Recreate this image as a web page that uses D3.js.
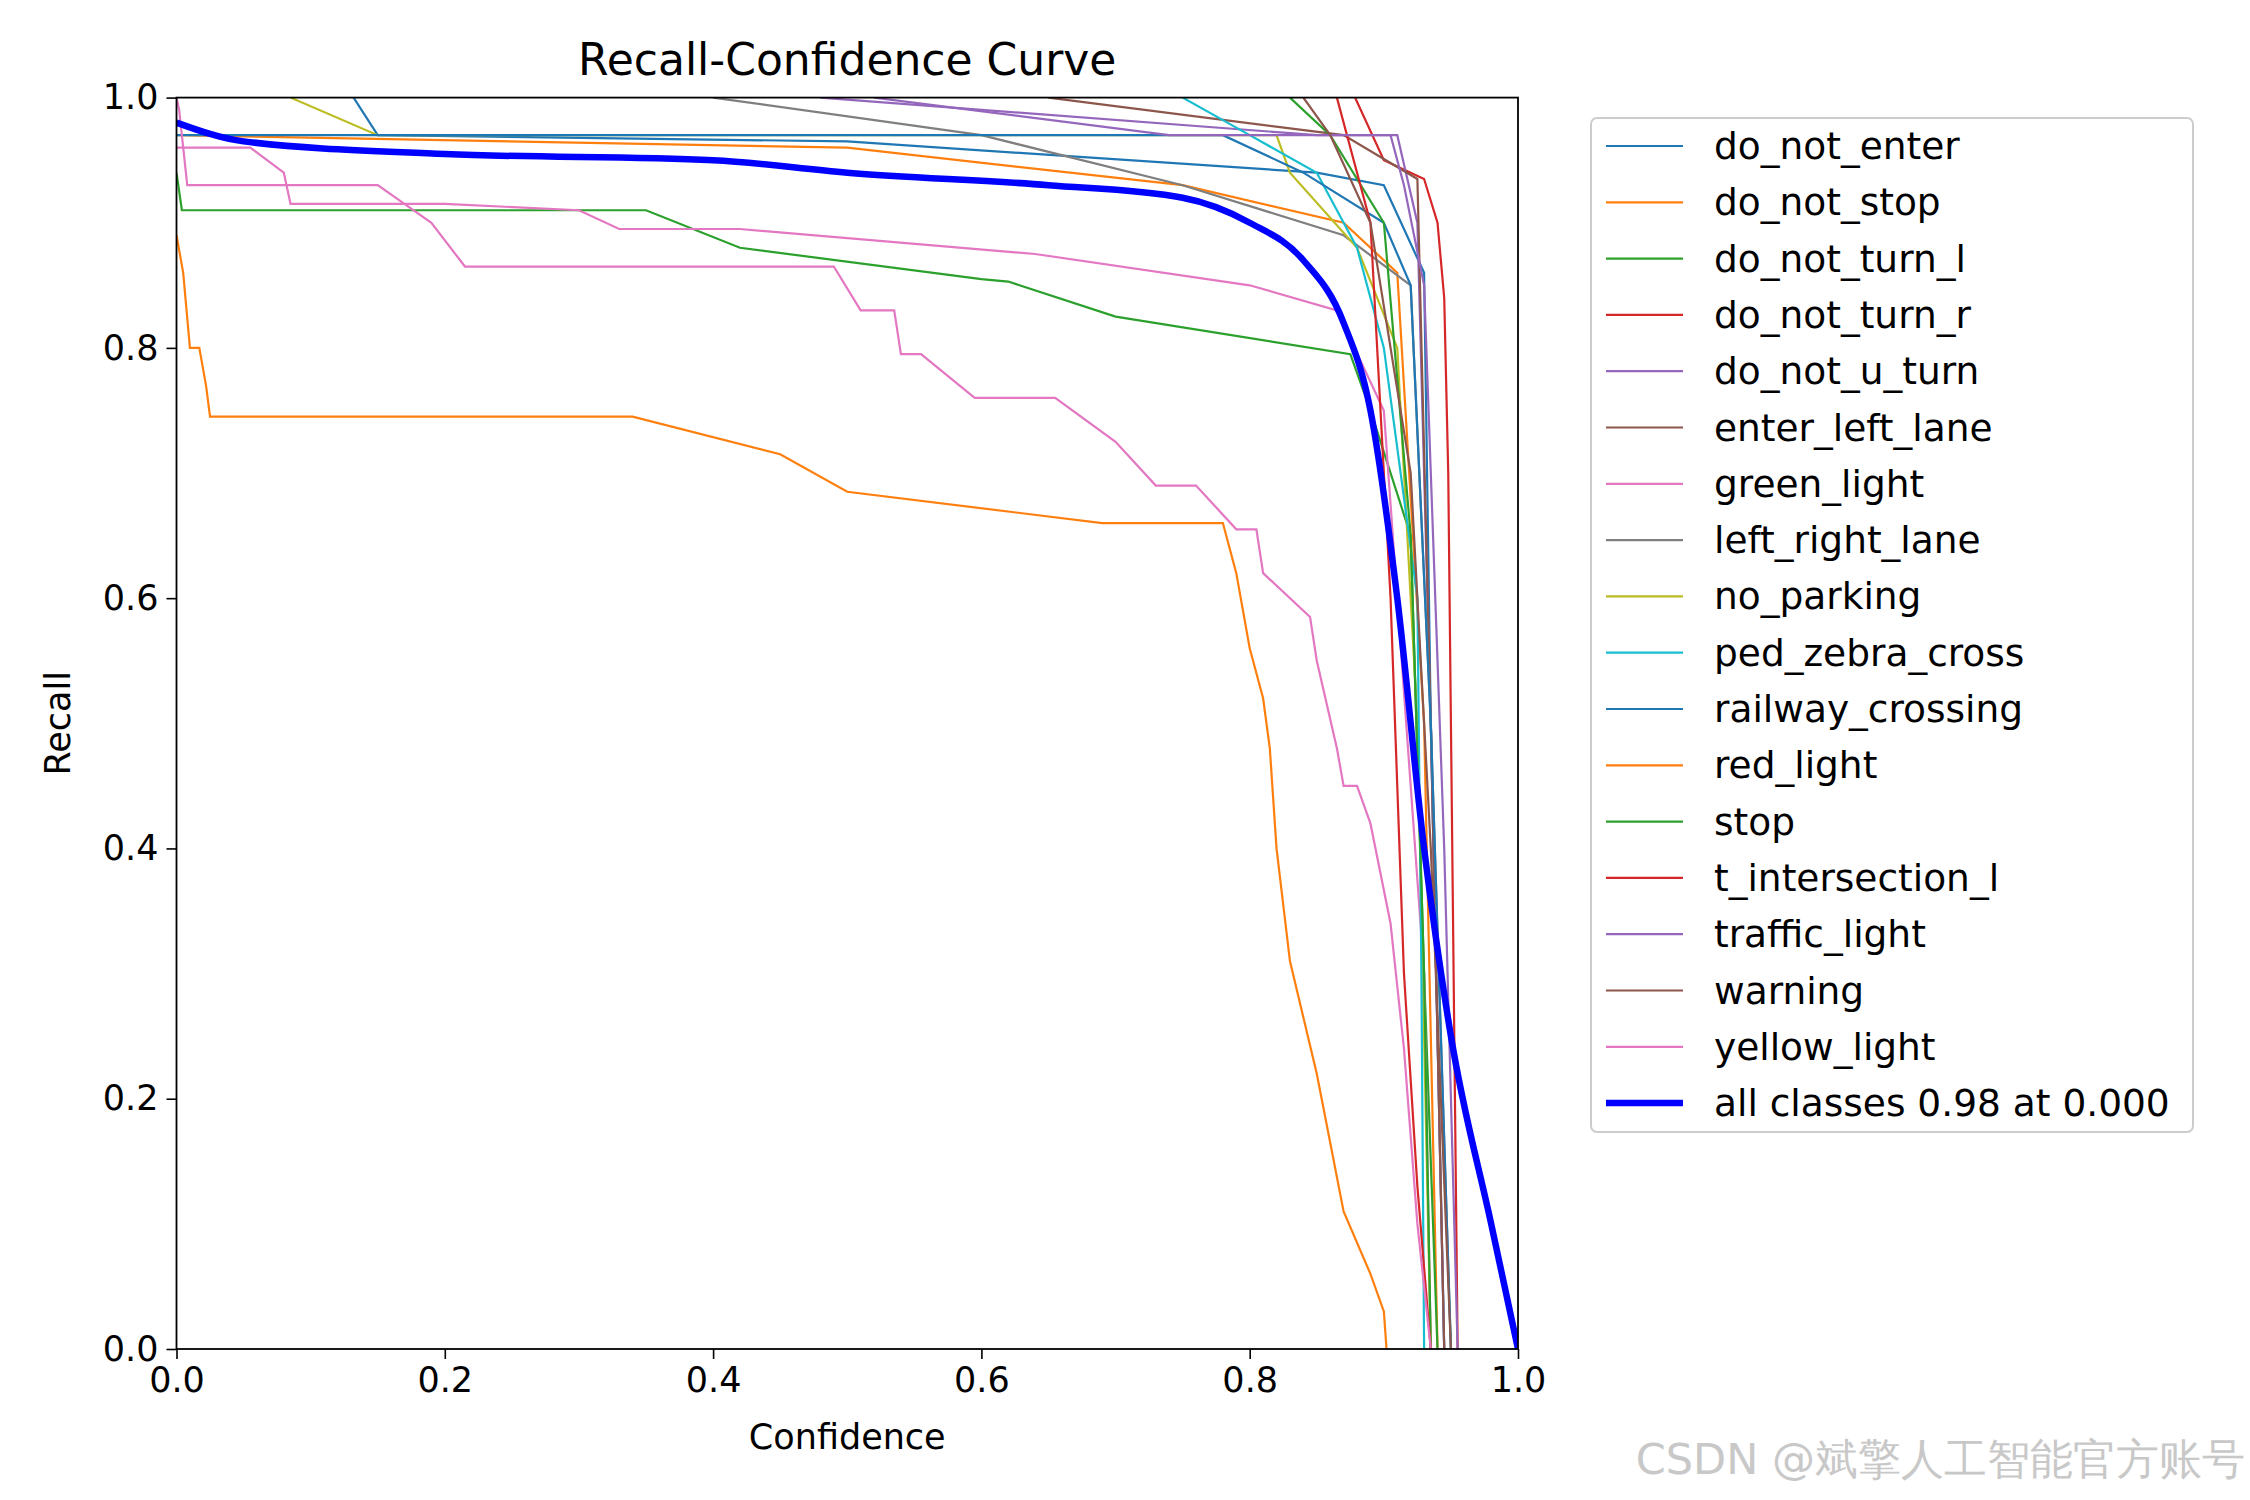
<!DOCTYPE html><html><head><meta charset="utf-8"><script src="https://cdn.jsdelivr.net/npm/d3@7"></script>
<style>body{margin:0;background:#fff}text{font-family:"DejaVu Sans",sans-serif}</style></head><body>
<script>
const names=["do_not_enter","do_not_stop","do_not_turn_l","do_not_turn_r","do_not_u_turn","enter_left_lane","green_light","left_right_lane","no_parking","ped_zebra_cross","railway_crossing","red_light","stop","t_intersection_l","traffic_light","warning","yellow_light"];
const colors=["#1f77b4","#ff7f0e","#2ca02c","#d62728","#9467bd","#8c564b","#e377c2","#7f7f7f","#bcbd22","#17becf"];
const do_not_enter=[[0.12,1.02],[0.15,0.97],[0.5,0.965],[0.85,0.94],[0.9,0.93],[0.93,0.86],[0.935,0.5],[0.945,0]];
const do_not_stop=[[0,0.97],[0.5,0.96],[0.75,0.93],[0.87,0.9],[0.91,0.86],[0.93,0.5],[0.94,0]];
const do_not_turn_l=[[0,0.94],[0.004,0.91],[0.35,0.91],[0.42,0.88],[0.6,0.855],[0.62,0.853],[0.7,0.825],[0.875,0.795],[0.89,0.75],[0.92,0.65],[0.93,0.3],[0.94,0]];
const do_not_turn_r=[[0.87,1.02],[0.9,0.95],[0.93,0.935],[0.94,0.9],[0.945,0.84],[0.948,0.7],[0.952,0.3],[0.955,0]];
const do_not_u_turn=[[0.48,1.0],[0.85,0.97],[0.91,0.97],[0.925,0.9],[0.935,0.5],[0.945,0]];
const enter_left_lane=[[0.65,1.0],[0.87,0.97],[0.925,0.935],[0.935,0.5],[0.945,0]];
const green_light=[[0,0.96],[0.055,0.96],[0.08,0.94],[0.085,0.915],[0.2,0.915],[0.3,0.91],[0.33,0.895],[0.42,0.895],[0.64,0.875],[0.8,0.85],[0.865,0.83],[0.9,0.75],[0.91,0.6],[0.93,0.3],[0.935,0]];
const left_right_lane=[[0.4,1.0],[0.6,0.97],[0.75,0.93],[0.87,0.89],[0.92,0.85],[0.935,0.5],[0.95,0]];
const no_parking=[[0.085,1.0],[0.15,0.97],[0.82,0.97],[0.83,0.94],[0.88,0.88],[0.91,0.8],[0.925,0.5],[0.935,0]];
const ped_zebra_cross=[[0.75,1.0],[0.8,0.97],[0.85,0.94],[0.88,0.88],[0.9,0.8],[0.925,0.6],[0.928,0.3],[0.93,0]];
const railway_crossing=[[0,0.97],[0.78,0.97],[0.84,0.94],[0.9,0.9],[0.92,0.85],[0.935,0.5],[0.95,0]];
const red_light=[[0,0.89],[0.005,0.86],[0.01,0.8],[0.017,0.8],[0.022,0.77],[0.025,0.745],[0.34,0.745],[0.45,0.715],[0.5,0.685],[0.69,0.66],[0.78,0.66],[0.79,0.62],[0.8,0.56],[0.81,0.52],[0.815,0.48],[0.82,0.4],[0.83,0.31],[0.85,0.22],[0.87,0.11],[0.89,0.06],[0.9,0.03],[0.902,0]];
const stop=[[0.83,1.0],[0.86,0.97],[0.9,0.9],[0.92,0.65],[0.93,0.3],[0.935,0]];
const t_intersection_l=[[0.865,1.0],[0.89,0.9],[0.905,0.6],[0.915,0.3],[0.925,0.13],[0.935,0]];
const traffic_light=[[0.52,1.0],[0.74,0.97],[0.905,0.97],[0.915,0.93],[0.93,0.85],[0.945,0.4],[0.955,0]];
const warning=[[0.84,1.0],[0.86,0.97],[0.89,0.9],[0.92,0.7],[0.935,0.4],[0.95,0]];
const yellow_light=[[0,1.0],[0.002,0.99],[0.008,0.93],[0.15,0.93],[0.19,0.9],[0.215,0.865],[0.49,0.865],[0.51,0.83],[0.535,0.83],[0.54,0.795],[0.555,0.795],[0.595,0.76],[0.655,0.76],[0.7,0.725],[0.73,0.69],[0.76,0.69],[0.79,0.655],[0.805,0.655],[0.81,0.62],[0.845,0.585],[0.85,0.55],[0.865,0.48],[0.87,0.45],[0.88,0.45],[0.89,0.42],[0.905,0.34],[0.915,0.24],[0.925,0.1],[0.935,0]];
const allClasses=[[0,0.98],[0.05,0.965],[0.2,0.955],[0.4,0.95],[0.5,0.94],[0.65,0.93],[0.75,0.92],[0.8,0.9],[0.84,0.87],[0.87,0.82],[0.89,0.75],[0.91,0.6],[0.93,0.4],[0.95,0.25],[0.98,0.1],[1.0,0]];
const series=[do_not_enter,do_not_stop,do_not_turn_l,do_not_turn_r,do_not_u_turn,enter_left_lane,green_light,left_right_lane,no_parking,ped_zebra_cross,railway_crossing,red_light,stop,t_intersection_l,traffic_light,warning,yellow_light];
const ticks=[0,0.2,0.4,0.6,0.8,1.0];

const W=2250,H=1500,L=176.5,R=1518,T=97.6,B=1349;
const svg=d3.select("body").append("svg").attr("width",W).attr("height",H);
const x=d3.scaleLinear().domain([0,1]).range([L,R]);
const y=d3.scaleLinear().domain([0,1]).range([B,T]);
svg.append("defs").append("clipPath").attr("id","c").append("rect").attr("x",L).attr("y",T).attr("width",R-L).attr("height",B-T);
const g=svg.append("g").attr("clip-path","url(#c)");
const line=d3.line().x(d=>x(d[0])).y(d=>y(d[1]));
series.forEach((s,i)=>g.append("path").attr("d",line(s)).attr("fill","none").attr("stroke",colors[i%10]).attr("stroke-width",2.2));
g.append("path").attr("d",line.curve(d3.curveMonotoneX)(allClasses)).attr("fill","none").attr("stroke","#0000ff").attr("stroke-width",6.5);
const fmt=d3.format(".1f");
const styleAx=a=>{a.select(".domain").remove();a.selectAll("text").attr("font-size",35).attr("font-family","DejaVu Sans").attr("fill","#000");a.selectAll("line").attr("stroke-width",1.6);};
svg.append("g").attr("transform",`translate(0,${B})`).call(d3.axisBottom(x).tickValues(ticks).tickFormat(fmt).tickSize(10).tickPadding(8)).call(styleAx);
svg.append("g").attr("transform",`translate(${L},0)`).call(d3.axisLeft(y).tickValues(ticks).tickFormat(fmt).tickSize(10).tickPadding(8)).call(styleAx);
svg.append("rect").attr("x",L).attr("y",T).attr("width",R-L).attr("height",B-T).attr("fill","none").attr("stroke","#000").attr("stroke-width",1.8);
svg.append("text").attr("x",(L+R)/2).attr("y",75).attr("text-anchor","middle").attr("font-size",44).text("Recall-Confidence Curve");
svg.append("text").attr("x",(L+R)/2).attr("y",1449).attr("text-anchor","middle").attr("font-size",35).text("Confidence");
svg.append("text").attr("transform",`translate(70,${(T+B)/2}) rotate(-90)`).attr("text-anchor","middle").attr("font-size",35).text("Recall");
const lg=svg.append("g");
lg.append("rect").attr("x",1591).attr("y",118).attr("width",602).attr("height",1014).attr("rx",6).attr("fill","#fff").attr("stroke","#ccc").attr("stroke-width",2);
const labels=names.concat(["all classes 0.98 at 0.000"]);
labels.forEach((n,i)=>{const yy=146+i*56.3;
 lg.append("line").attr("x1",1606).attr("x2",1683).attr("y1",yy).attr("y2",yy).attr("stroke",i<17?colors[i%10]:"#0000ff").attr("stroke-width",i<17?2.2:6.5);
 lg.append("text").attr("x",1714).attr("y",yy+13).attr("font-size",37.5).text(n);});
svg.append("text").attr("x",2245).attr("y",1474).attr("text-anchor","end").attr("font-size",43).attr("fill","#c8c8c8").attr("font-family","Noto Sans CJK SC").text("CSDN @斌擎人工智能官方账号");
</script></body></html>
